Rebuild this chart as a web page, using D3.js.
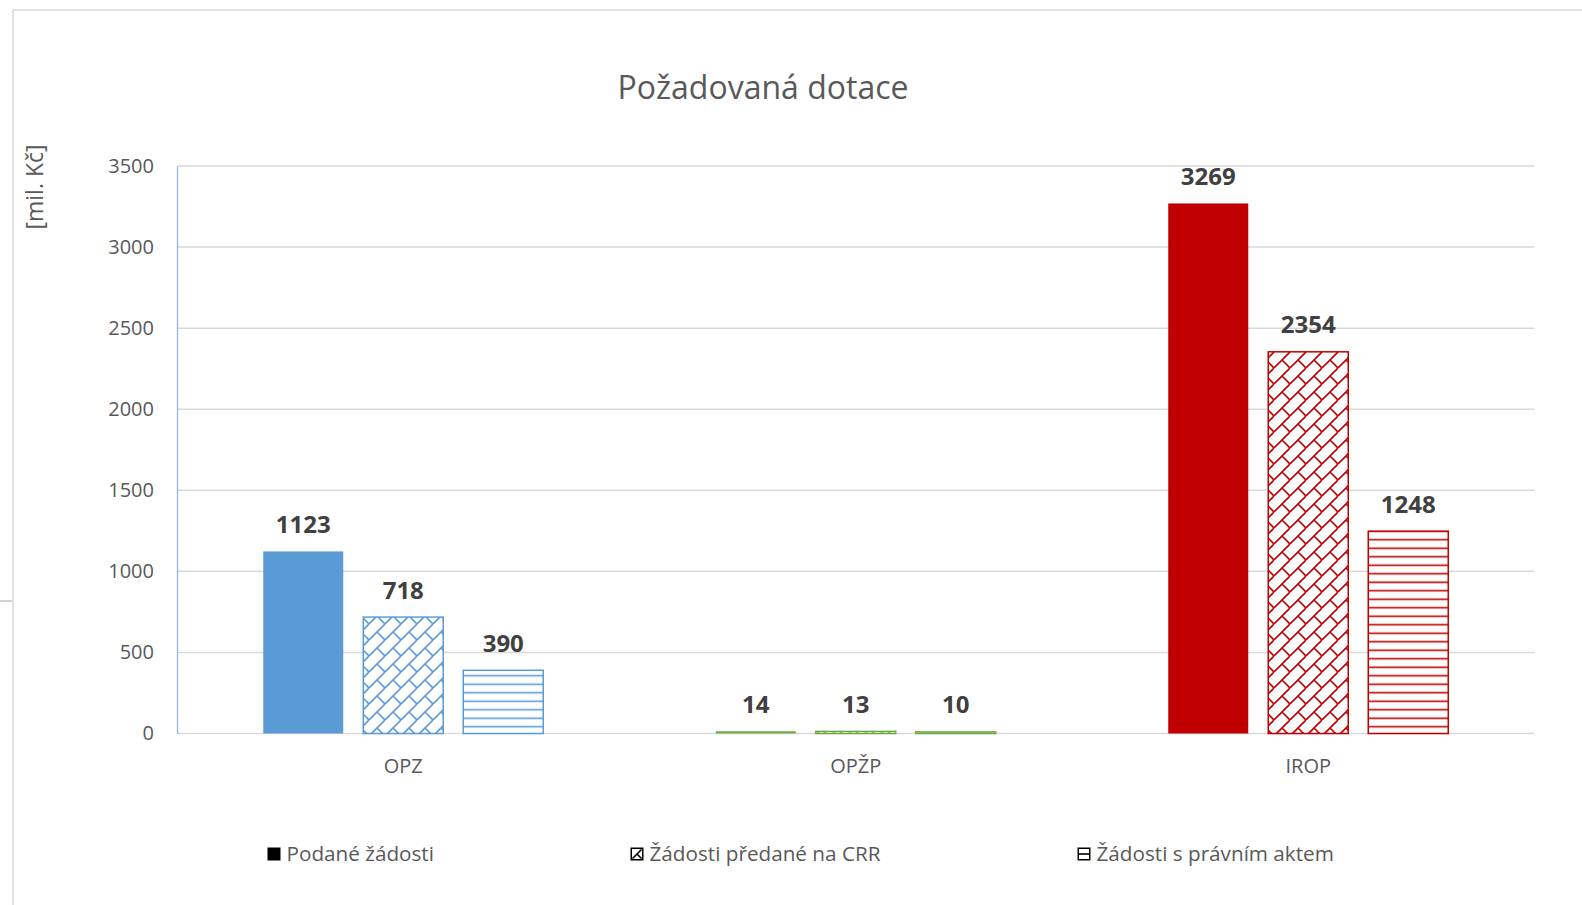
<!DOCTYPE html>
<html>
<head>
<meta charset="utf-8">
<script src="https://cdn.jsdelivr.net/npm/d3@7"></script>
<style>
  html, body { margin: 0; padding: 0; background: #fff; }
  svg { display: block; font-family: "Open Sans", "Noto Sans", sans-serif; }
</style>
</head>
<body>
<svg id="chart" width="1582" height="905"></svg>
<script>
// ---- data ----
const categories = ["OPZ", "OPŽP", "IROP"];
const seriesNames = ["Podané žádosti", "Žádosti předané na CRR", "Žádosti s právním aktem"];
const podaneZadosti = [1123, 14, 3269];
const predaneNaCRR = [718, 13, 2354];
const sPravnimAktem = [390, 10, 1248];
const categoryColors = ["#5b9bd5", "#70ad47", "#c00000"];
const yTicks = [0, 500, 1000, 1500, 2000, 2500, 3000, 3500];
const titleText = "Požadovaná dotace";
const yTitle = "[mil. Kč]";

const seriesValues = [podaneZadosti, predaneNaCRR, sPravnimAktem];
const fills = ["solid", "brick", "hlines"];

const svg = d3.select("#chart");
const W = 1582, H = 905;
const plot = { left: 177, right: 1534.5, top: 166, bottom: 733.5 };

// frame
svg.append("line").attr("x1", 13).attr("x2", 13).attr("y1", 10).attr("y2", H)
  .attr("stroke", "#d9d9d9").attr("stroke-width", 1.5);
svg.append("line").attr("x1", 13).attr("x2", W).attr("y1", 10).attr("y2", 10)
  .attr("stroke", "#d9d9d9").attr("stroke-width", 1.5);
svg.append("line").attr("x1", 0).attr("x2", 12).attr("y1", 601).attr("y2", 601)
  .attr("stroke", "#a6a6a6").attr("stroke-width", 1);

// patterns
const defs = svg.append("defs");
function makePatterns(color, idx) {
  const S = 16;
  const pb = defs.append("pattern").attr("id", "brick" + idx)
    .attr("patternUnits", "userSpaceOnUse").attr("width", S).attr("height", S);
  pb.append("rect").attr("width", S).attr("height", S).attr("fill", "#fff");
  pb.append("path")
    .attr("d", `M-2,${S + 2} L${S + 2},-2 M${S / 2},${S / 2} L${S},${S} M-4,4 L0,0`)
    .attr("stroke", color).attr("stroke-width", 1.6).attr("fill", "none");
  const P = 8.5;
  const ph = defs.append("pattern").attr("id", "hlines" + idx)
    .attr("patternUnits", "userSpaceOnUse").attr("width", 10).attr("height", P);
  ph.append("rect").attr("width", 10).attr("height", P).attr("fill", "#fff");
  ph.append("line").attr("x1", 0).attr("x2", 10).attr("y1", P / 2).attr("y2", P / 2)
    .attr("stroke", color).attr("stroke-width", 1.6);
}
categoryColors.forEach((c, i) => makePatterns(c, i));

// scales
const x0 = d3.scaleBand().domain(categories).range([plot.left, plot.right]).padding(0);
const inner = x0.bandwidth();
const barW = 80, step = 100;
const pIn = 1 - barW / step;
const pOut = (inner / step - (3 - pIn)) / 2;
const x1 = d3.scaleBand().domain(d3.range(3)).range([0, inner])
  .paddingInner(pIn).paddingOuter(pOut);
const y = d3.scaleLinear().domain([0, 3500]).range([plot.bottom, plot.top]);

// gridlines
svg.append("g").selectAll("line").data(yTicks).join("line")
  .attr("x1", plot.left).attr("x2", plot.right)
  .attr("y1", d => y(d)).attr("y2", d => y(d))
  .attr("stroke", "#d9d9d9").attr("stroke-width", 1.5);

// y axis
const yAxis = svg.append("g").attr("transform", `translate(${plot.left},0)`)
  .call(d3.axisLeft(y).tickValues(yTicks).tickSize(0).tickPadding(23).tickFormat(d3.format("d")));
yAxis.select(".domain").attr("stroke", "#8db4e2").attr("stroke-width", 1.2);
yAxis.selectAll("text").attr("font-size", 20).attr("fill", "#595959")
  .attr("font-family", "'Open Sans', sans-serif");

// x axis
const xAxis = svg.append("g").attr("transform", `translate(0,${plot.bottom})`)
  .call(d3.axisBottom(x0).tickSize(0).tickPadding(25));
xAxis.select(".domain").remove();
xAxis.selectAll("text").attr("font-size", 20).attr("fill", "#595959")
  .attr("font-family", "'Open Sans', sans-serif");

// bars
const groups = svg.append("g").selectAll("g").data(categories).join("g")
  .attr("transform", d => `translate(${x0(d)},0)`);

groups.each(function (cat, ci) {
  const g = d3.select(this);
  seriesValues.forEach((vals, si) => {
    const v = vals[ci];
    const color = categoryColors[ci];
    const fill = fills[si] === "solid" ? color : `url(#${fills[si]}${ci})`;
    const bx = x1(si), bw = x1.bandwidth();
    const top = y(v), h = y(0) - y(v);
    g.append("rect")
      .attr("x", bx).attr("y", top).attr("width", bw).attr("height", h)
      .attr("fill", fill)
      .attr("stroke", fills[si] === "solid" ? "none" : color)
      .attr("stroke-width", 1.5);
    g.append("text")
      .attr("x", bx + bw / 2).attr("y", top - 18.5)
      .attr("text-anchor", "middle")
      .attr("font-size", 24).attr("font-weight", 700).attr("fill", "#404040")
      .text(v);
  });
});

// title
svg.append("text").attr("x", 763).attr("y", 98.5).attr("text-anchor", "middle")
  .attr("font-size", 32).attr("fill", "#595959").text(titleText);

// y title
svg.append("text").attr("transform", "translate(43,187) rotate(-90)")
  .attr("text-anchor", "middle").attr("font-size", 23).attr("fill", "#595959").text(yTitle);

// legend
const legendX = [267.5, 630.5, 1077.5];
const legend = svg.append("g").selectAll("g").data(seriesNames).join("g")
  .attr("transform", (d, i) => `translate(${legendX[i]},847.5)`);
legend.each(function (name, i) {
  const g = d3.select(this);
  if (i === 0) {
    g.append("rect").attr("width", 13).attr("height", 13).attr("fill", "#000");
  } else if (i === 1) {
    g.append("rect").attr("x", 0.75).attr("y", 0.75).attr("width", 11.5).attr("height", 11.5)
      .attr("fill", "#fff").attr("stroke", "#000").attr("stroke-width", 1.5);
    g.append("path").attr("d", "M2,11 L11,2 M6.5,6.5 L11,11").attr("stroke", "#000")
      .attr("stroke-width", 1.6).attr("fill", "none");
  } else {
    g.append("rect").attr("x", 0.75).attr("y", 0.75).attr("width", 11.5).attr("height", 11.5)
      .attr("fill", "#fff").attr("stroke", "#000").attr("stroke-width", 1.5);
    g.append("line").attr("x1", 1).attr("x2", 12).attr("y1", 6.5).attr("y2", 6.5)
      .attr("stroke", "#000").attr("stroke-width", 1.6);
  }
  g.append("text").attr("x", 19).attr("y", 13.5).attr("font-size", 20.7).attr("fill", "#595959")
    .text(name);
});
</script>
</body>
</html>
